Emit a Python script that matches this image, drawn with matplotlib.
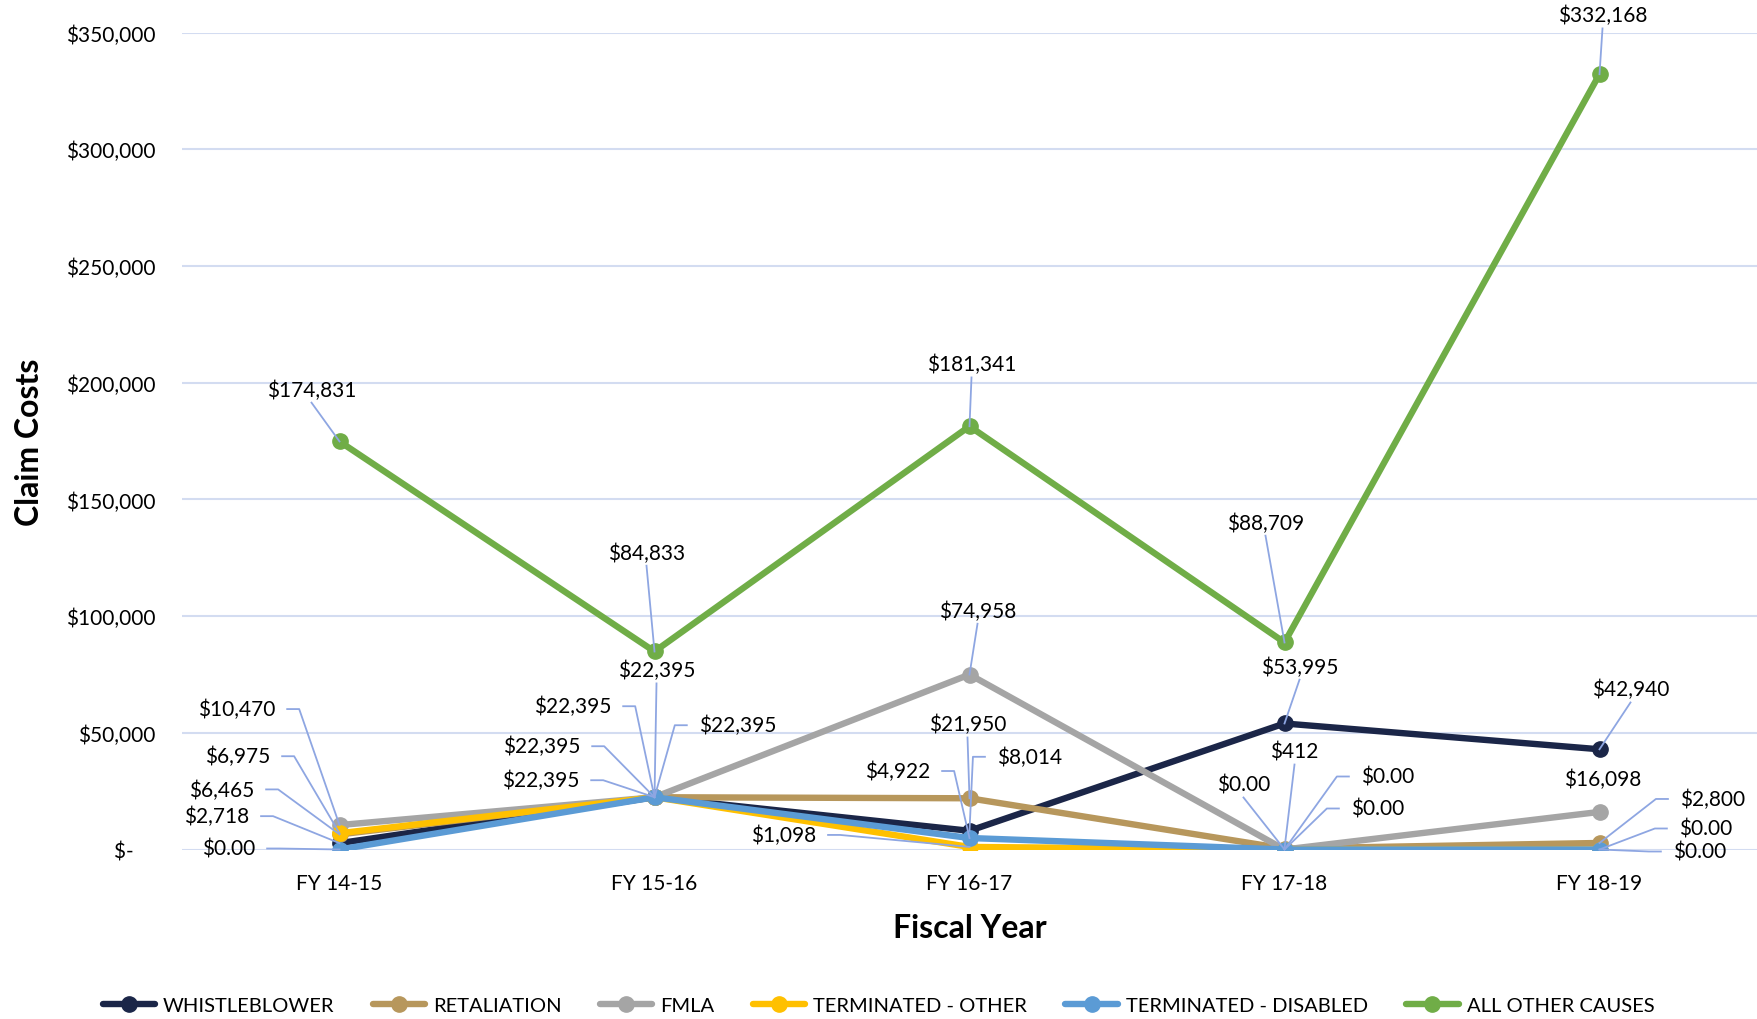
import matplotlib
matplotlib.use('Agg')
import matplotlib.pyplot as plt
from matplotlib.lines import Line2D
from matplotlib.transforms import IdentityTransform
from matplotlib.ticker import FuncFormatter, MultipleLocator

# data
years = ['FY 14-15', 'FY 15-16', 'FY 16-17', 'FY 17-18', 'FY 18-19']
names = ['WHISTLEBLOWER', 'RETALIATION', 'FMLA', 'TERMINATED - OTHER',
         'TERMINATED - DISABLED', 'ALL OTHER CAUSES']
whistleblower = [2718, 22395, 8014, 53995, 42940]
retaliation = [6465, 22395, 21950, 412, 2800]
fmla = [10470, 22395, 74958, 0, 16098]
terminated_other = [6975, 22395, 1098, 0, 0]
terminated_disabled = [0, 22395, 4922, 0, 0]
all_other = [174831, 84833, 181341, 88709, 332168]

series = [whistleblower, retaliation, fmla, terminated_other, terminated_disabled, all_other]
colors = ['#1B2648', '#B7975C', '#A5A5A5', '#FFC000', '#5B9BD5', '#70AD47']

# label placement: (series, year, dx px, dy px, leader side)
label_layout = [
    (5, 0, -28, 52, 'b'), (2, 0, -103, 116, 'r'), (3, 0, -102, 77, 'r'),
    (1, 0, -118, 45, 'r'), (0, 0, -123, 27, 'r'), (4, 0, -111, 1, 'r'),
    (5, 1, -8, 99, 'b'), (0, 1, 2, 127, 'b'), (1, 1, -82, 91, 'r'),
    (2, 1, 83, 72, 'l'), (3, 1, -113, 51, 'r'), (4, 1, -114, 17, 'r'),
    (5, 2, 2, 62, 'b'), (2, 2, 8, 64, 'b'), (1, 2, -2, 74, 'b'),
    (0, 2, 60, 74, 'l'), (4, 2, -72, 67, 'r'), (3, 2, -186, 12, 'r'),
    (5, 3, -19, 120, 'b'), (0, 3, 15, 57, 'b'), (1, 3, 10, 97, 'b'),
    (2, 3, -41, 65, 'b'), (3, 3, 103, 73, 'l'), (4, 3, 93, 41, 'l'),
    (5, 4, 3, 59, 'b'), (0, 4, 31, 60, 'b'), (2, 4, 3, 33, None),
    (1, 4, 113, 44, 'l'), (3, 4, 106, 21, 'l'), (4, 4, 100, -2, 'l'),
]

plt.rcParams['font.family'] = ['Lato', 'DejaVu Sans']
leader_color = '#8EA6E2'
grid_color = '#D3DCF1'


def money(v):
    return '$0.00' if v == 0 else '${:,.0f}'.format(v)


def main():
    fig = plt.figure(figsize=(17.57, 10.20), dpi=100)
    ax = fig.add_axes([182 / 1757, 1 - 850.5 / 1020, 1 - 182 / 1757, (850.5 - 33.6) / 1020])

    x = list(range(len(years)))
    for vals, name, c in zip(series, names, colors):
        ax.plot(x, vals, color=c, lw=4.6, marker='o', ms=11, label=name,
                solid_joinstyle='round', solid_capstyle='round', zorder=3)

    ax.set_xlim(-0.5, len(years) - 0.5)
    ax.set_ylim(0, 350000)
    ax.yaxis.set_major_locator(MultipleLocator(50000))
    ax.yaxis.set_major_formatter(FuncFormatter(lambda v, p: '$-    ' if v == 0 else '${:,.0f}'.format(v)))
    ax.set_xticks(x)
    ax.set_xticklabels(years)
    ax.tick_params(length=0, labelsize=15, colors='#000000')
    ax.tick_params(axis='y', pad=19)
    ax.tick_params(axis='x', pad=17)
    ax.grid(axis='y', color=grid_color, lw=1.5, zorder=0)
    for s in ax.spines.values():
        s.set_visible(False)

    fig.text(30 / 1757, 1 - 442 / 1020, 'Claim Costs', rotation=90, ha='center', va='center',
             fontsize=23, fontweight='bold')
    fig.text(970 / 1757, 1 - 929 / 1020, 'Fiscal Year', ha='center', va='center',
             fontsize=23, fontweight='bold')

    # data labels with leader lines
    texts = []
    for si, yi, dx, dy, side in label_layout:
        v = series[si][yi]
        t = ax.annotate(money(v), xy=(yi, v), xytext=(dx, dy), textcoords='offset pixels',
                        ha='center', va='center', fontsize=15, zorder=5)
        texts.append((t, si, yi, side))

    fig.canvas.draw()
    r = fig.canvas.get_renderer()
    for t, si, yi, side in texts:
        if side is None:
            continue
        px, py = ax.transData.transform((yi, series[si][yi]))
        bb = t.get_window_extent(r)
        cy = (bb.y0 + bb.y1) / 2
        if side == 'b':
            xs = [(bb.x0 + bb.x1) / 2, px]
            ys = [bb.y0 - 3, py]
        elif side == 'r':
            xs = [bb.x1 + 12, bb.x1 + 24, px]
            ys = [cy, cy, py]
        else:
            xs = [bb.x0 - 12, bb.x0 - 24, px]
            ys = [cy, cy, py]
        fig.add_artist(Line2D(xs, ys, transform=IdentityTransform(), color=leader_color,
                              lw=1.3, zorder=4))

    fig.legend(loc='center', bbox_to_anchor=(0.5, 1 - 1006 / 1020), ncol=6, frameon=False,
               fontsize=14.5, handlelength=2.6, handletextpad=0.4, columnspacing=1.9)

    fig.savefig('out.png', dpi=100)


if __name__ == '__main__':
    main()
